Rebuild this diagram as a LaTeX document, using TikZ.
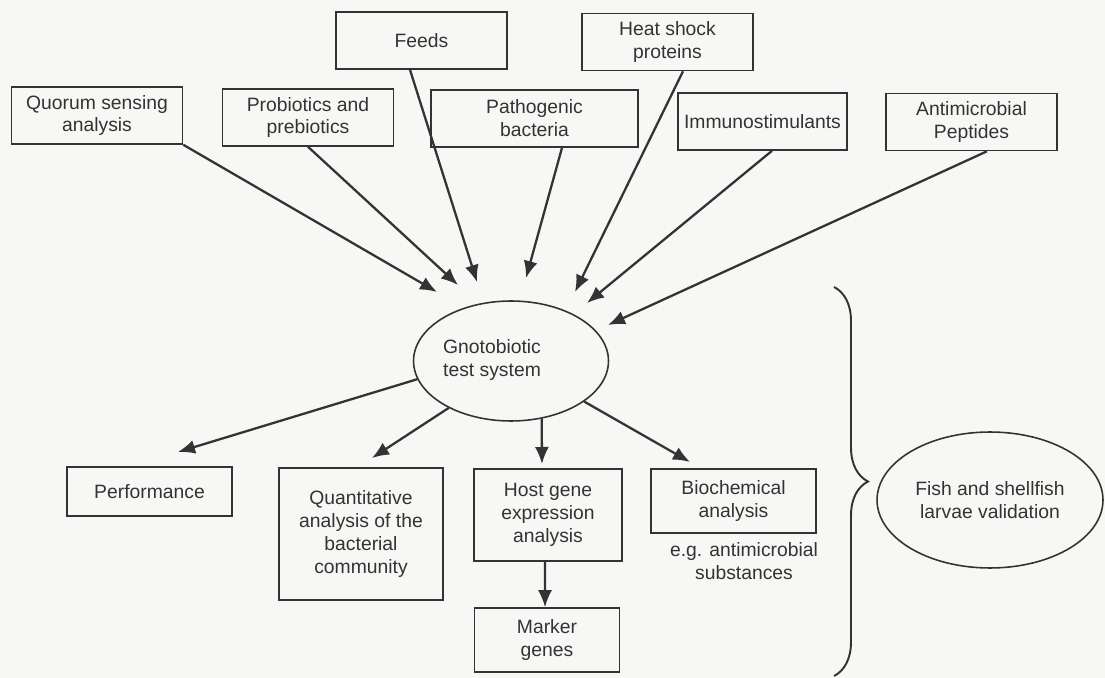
\documentclass[tikz,border=0pt]{standalone}
\usepackage{fontspec}
\setmainfont{Liberation Sans}
\usetikzlibrary{arrows.meta, shapes.geometric, decorations.pathreplacing}
\definecolor{ink}{HTML}{333333}
\definecolor{paper}{HTML}{F7F7F5}
\tikzset{
x=0.02cm, y=-0.02cm, % one unit is one pixel, y runs down
box/.style={draw=ink, line width=0.9pt, text=ink, align=center, inner sep=0pt,
  minimum width=3.42cm, minimum height=1.14cm}, % the square boxes
oval/.style={ellipse, draw=ink, line width=0.9pt, text=ink, align=center, inner sep=0pt}, % the two ellipses
link/.style={draw=ink, line width=1.3pt, -{Latex[length=3.4mm,width=2.8mm]}}, % arrows
}

\begin{document}
\begin{tikzpicture}[font=\fontsize{11}{13}\selectfont]
      \fill[paper] (0,0) rectangle (1105,678);
      \useasboundingbox (0,0) rectangle (1105,678);
      % what goes into the test system
      \node[box] (qs) at (97,115.5) {Quorum sensing\\analysis};
      \node[box] (pp) at (308,117.5) {Probiotics and\\prebiotics};
      \node[box] (feeds) at (421.5,40.5) {Feeds};
      \node[box, minimum width=4.14cm] (path) at (534.5,118.5) {Pathogenic\\bacteria};
      \node[box] (hsp) at (667.5,42) {Heat shock\\proteins};
      \node[box, minimum width=3.38cm] (immuno) at (762.5,121.5) {Immunostimulants};
      \node[box] (amp) at (971.5,122) {Antimicrobial\\Peptides};
      % centre
      \node[oval, minimum width=3.9cm, minimum height=2.4cm,
        label={[text=ink, align=center, xshift=-0.38cm, yshift=0.02cm]center:Gnotobiotic\\test system}] (gts) at (511,361) {};
      % read outs
      \node[box, minimum width=3.3cm, minimum height=0.98cm] (perf) at (149.5,491.5) {Performance};
      \node[box, minimum width=3.28cm, minimum height=2.64cm] (quant) at (361,534) {Quantitative\\analysis of the\\bacterial\\community};
      \node[box, minimum width=2.96cm, minimum height=1.84cm] (host) at (548,515) {Host gene\\expression\\analysis};
      \node[box, minimum width=3.3cm, minimum height=1.28cm] (bio) at (733.5,501) {Biochemical\\analysis};
      \node[text=ink, align=center] (eg) at (744,561) {e.g. antimicrobial\\substances};
      \node[box, minimum width=2.9cm, minimum height=1.28cm] (marker) at (547,640) {Marker\\genes};
      \node[oval, minimum width=4.52cm, minimum height=2.72cm] (fish) at (990,500) {Fish and shellfish\\larvae validation};
      % arrow tips
      \coordinate (t-qs) at (437,292);
      \coordinate (t-pp) at (458,285);
      \coordinate (t-feeds) at (477,282);
      \coordinate (t-path) at (526,278);
      \coordinate (t-hsp) at (575,292);
      \coordinate (t-immuno) at (587,303);
      \coordinate (t-amp) at (608,325);
      \coordinate (t-perf) at (178,452);
      \coordinate (t-quant) at (372,458);
      \coordinate (t-host) at (542,464);
      \coordinate (t-bio) at (690,462);
      \draw[link] (qs.south east) -- (t-qs);
      \draw[link] (pp.south) -- (t-pp);
      \draw[link] ([xshift=-0.23cm]feeds.south) -- (t-feeds);
      \draw[link] ([xshift=0.55cm]path.south) -- (t-path);
      \draw[link] ([xshift=0.31cm]hsp.south) -- (t-hsp);
      \draw[link] ([xshift=0.19cm]immuno.south) -- (t-immuno);
      \draw[link] ([xshift=0.31cm]amp.south) -- (t-amp);
      \draw[link] (gts.191) -- (t-perf);
      \draw[link] (gts.217) -- (t-quant);
      \draw[link] (gts.298) -- (t-host);
      \draw[link] (gts.331) -- (t-bio);
      \draw[link] ([xshift=-0.06cm]host.south) -- ([xshift=-0.04cm]marker.north);
      % brace round the read outs
      \coordinate (b-top) at (834,287);
      \coordinate (b-bot) at (834,676);
      \draw[ink, line width=1.1pt, decorate, decoration={brace, amplitude=0.68cm}] (b-top) -- (b-bot);
\end{tikzpicture}
\end{document}
